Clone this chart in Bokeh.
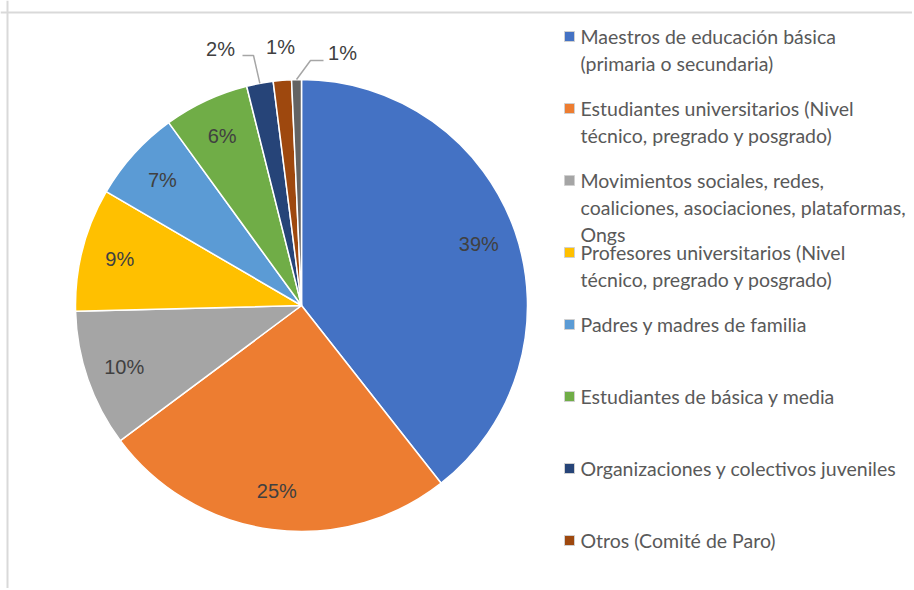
import math
from bokeh.plotting import figure
from bokeh.models import Range1d, Span, ColumnDataSource
from bokeh.core.properties import value
from bokeh.embed import file_html
from bokeh.resources import INLINE

# ---------------- data ----------------
categories = [
    "Maestros de educación básica\n(primaria o secundaria)",
    "Estudiantes universitarios (Nivel\ntécnico, pregrado y posgrado)",
    "Movimientos sociales, redes,\ncoaliciones, asociaciones, plataformas,\nOngs",
    "Profesores universitarios (Nivel\ntécnico, pregrado y posgrado)",
    "Padres y madres de familia",
    " Estudiantes de básica y media",
    "Organizaciones y colectivos juveniles",
    "Otros (Comité de Paro)",
    "Otros",
]
values = [39.4, 25.4, 9.8, 8.8, 6.6, 6.1, 1.9, 1.3, 0.7]
colors = ["#4472C4", "#ED7D31", "#A5A5A5", "#FFC000", "#5B9BD5",
          "#70AD47", "#264478", "#9E480E", "#636363"]
legend_count = 8  # entries visible in the legend area

# ---------------- layout ----------------
W, H = 912, 588
cx, cy, R = 301, H - 305, 226
label_frac = 0.83
inside_n = 6
# outside label offsets from centre (for the three smallest slices)
outside_offsets = [(-81, 257), (-21, 259), (41, 253)]
# leader lines: (elbow, end) offsets, None = no leader
leaders = [((-48, 250), (-59, 250)), None, ((9, 245), (22, 245))]

p = figure(width=W, height=H, x_range=Range1d(0, W), y_range=Range1d(0, H),
           output_backend="svg", toolbar_location=None, min_border=0,
           x_axis_location=None, y_axis_location=None)
p.grid.visible = False
p.outline_line_color = None
p.background_fill_color = "white"
p.border_fill_color = "white"

# chart border (left and top visible)
p.add_layout(Span(location=7, dimension="height", line_color="#d9d9d9", line_width=2))
p.add_layout(Span(location=H - 12, dimension="width", line_color="#d9d9d9", line_width=2))

total = sum(values)
starts, ends, mids = [], [], []
cum = 0.0
for v in values:
    a0 = math.pi / 2 - 2 * math.pi * cum / total
    a1 = math.pi / 2 - 2 * math.pi * (cum + v) / total
    starts.append(a0)
    ends.append(a1)
    mids.append((a0 + a1) / 2)
    cum += v

src = ColumnDataSource(dict(start=starts, end=ends, color=colors,
                            x=[cx] * len(values), y=[cy] * len(values)))
p.wedge(x="x", y="y", radius=R, start_angle="start", end_angle="end",
        direction="clock", fill_color="color", line_color="white",
        line_width=1.5, source=src)

labels = [f"{round(v)}%" for v in values]
lx, ly = [], []
for i, m in enumerate(mids):
    if i < inside_n:
        lx.append(cx + label_frac * R * math.cos(m))
        ly.append(cy + label_frac * R * math.sin(m))
    else:
        ox, oy = outside_offsets[i - inside_n]
        lx.append(cx + ox)
        ly.append(cy + oy)
p.text(x=lx, y=ly, text=labels, text_align="center", text_baseline="middle",
       text_font=value("Liberation Sans"), text_font_size="20px",
       text_color="#404040")

# leader lines
xs, ys = [], []
for k, ld in enumerate(leaders):
    if ld is None:
        continue
    m = mids[inside_n + k]
    ex, ey = cx + R * math.cos(m), cy + R * math.sin(m)
    (bx, by), (tx, ty) = ld
    xs.append([ex, cx + bx, cx + tx])
    ys.append([ey, cy + by, cy + ty])
p.multi_line(xs=xs, ys=ys, line_color="#a6a6a6", line_width=1.5)

# legend
leg_top = H - 36
leg_step = 72
line_step = 27
sq_x = 569
tx0 = 580
sqx, sqy, sqc = [], [], []
tx_, ty_, tt_ = [], [], []
for i in range(legend_count):
    yy = leg_top - i * leg_step
    sqx.append(sq_x)
    sqy.append(yy)
    sqc.append(colors[i])
    for j, line in enumerate(categories[i].split("\n")):
        tx_.append(tx0)
        ty_.append(yy - j * line_step)
        tt_.append(line)
p.scatter(x=sqx, y=sqy, marker="square", size=10, fill_color=sqc,
          line_color="#d0d0d0", line_width=1)
p.text(x=tx_, y=ty_, text=tt_, text_align="left", text_baseline="middle",
       text_font=value("Lato"), text_font_size="19.5px", text_color="#595959")

open("out.html", "w").write(file_html(p, INLINE))
